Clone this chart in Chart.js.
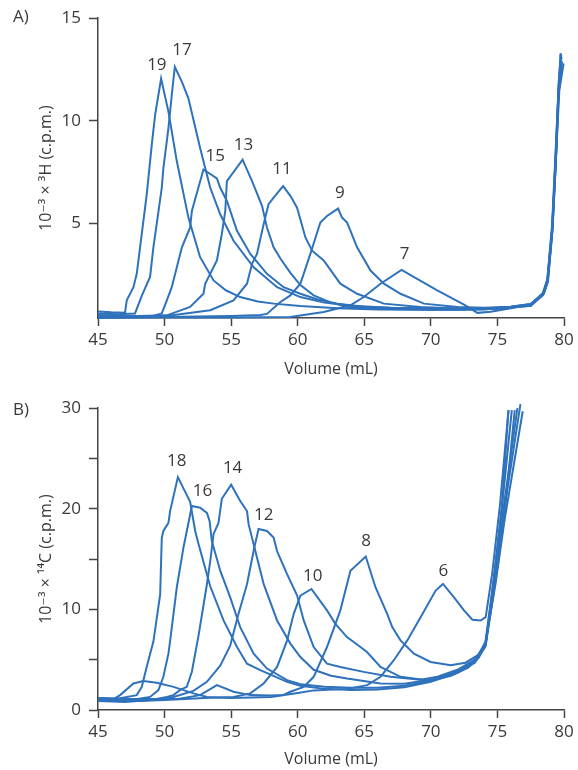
<!DOCTYPE html>
<html><head><meta charset="utf-8">
<script src="https://cdn.jsdelivr.net/npm/chart.js@4.4.1/dist/chart.umd.min.js"></script>
<style>
html,body{margin:0;padding:0;background:#fff;}
#wrap{position:relative;width:578px;height:770px;overflow:hidden;}
canvas{position:absolute;left:0;}
#cA{top:0;}
#cB{top:390px;}
</style></head><body>
<div id="wrap"><canvas id="cA" width="578" height="380"></canvas><canvas id="cB" width="578" height="380"></canvas></div>
<script>
// ---------- data ----------
const xTicks = [45,50,55,60,65,70,75,80];
const yTicksA = [5,10,15];
const yTicksB = [0,5,10,15,20,25,30];
const yLabelsB = [0,10,20,30];

// Panel A (3H) fractions
const a19 = [[45,0.72],[46,0.68],[47.03,0.66],[47.16,1.26],[47.66,1.9],[47.91,2.55],[48.16,3.84],[48.66,6.42],[49.04,8.84],[49.29,10.29],[49.74,12.06],[50.29,10.45],[50.92,8.03],[51.79,5.29],[52.67,3.36],[53.68,2.23],[54.6,1.75],[55.68,1.42],[57,1.2],[58.2,1.1],[60.2,0.98],[63,0.88],[66,0.82],[70,0.8],[74,0.84],[76,0.95],[77.5,1.08],[78.45,1.58],[78.75,2.1],[79.1,4.5],[79.36,7.7],[79.56,10.9],[79.74,13.25]];
const a17 = [[45,0.62],[46.5,0.58],[47.78,0.62],[48.3,1.5],[48.91,2.4],[49.16,3.84],[49.79,6.74],[49.91,7.7],[50.29,9.65],[50.54,11.26],[50.77,12.63],[51.3,11.9],[51.79,11.1],[52.67,8.68],[53.43,6.74],[54.18,5.45],[55.18,4.16],[56.69,2.87],[58.45,1.9],[60.2,1.42],[62,1.15],[64,1.0],[67,0.9],[71,0.86],[74,0.86],[76,0.93],[77.5,1.05],[78.5,1.6],[78.8,2.2],[79.15,4.8],[79.42,8.5],[79.65,11.5],[79.97,12.8]];
const a15 = [[45,0.55],[47,0.5],[49,0.48],[49.79,0.62],[50.17,1.26],[50.54,1.9],[51.3,3.84],[51.92,4.81],[52.05,5.61],[52.92,7.63],[53.93,7.2],[54.18,6.74],[54.68,6.1],[55.44,4.65],[56.44,3.52],[57.69,2.55],[58.94,1.9],[60.2,1.58],[61.5,1.3],[63,1.1],[65,0.95],[68,0.86],[72,0.8],[75,0.85],[77.5,1.0],[78.4,1.5],[78.75,2.1],[79.12,4.6],[79.4,8.2],[79.6,11.4],[79.8,13.1]];
const a13 = [[45,0.5],[48,0.5],[50.17,0.53],[51.92,0.94],[52.92,1.58],[53.05,2.07],[53.93,3.2],[54.3,4.49],[54.56,5.61],[54.68,7.07],[55.86,8.11],[56.57,7.07],[57.32,5.86],[57.69,4.81],[58.19,3.84],[58.7,3.3],[59.45,2.6],[60.2,2.0],[61.2,1.5],[62.5,1.15],[63.7,0.95],[66,0.85],[70,0.8],[74,0.82],[77.5,1.02],[78.45,1.55],[78.75,2.2],[79.1,4.7],[79.38,8.0],[79.58,11.2],[79.85,12.9]];
const a11 = [[45,0.45],[50,0.48],[53.43,0.78],[55.18,1.26],[56.19,2.07],[56.57,3.04],[56.94,3.52],[57.44,4.97],[57.81,5.94],[58.19,6.26],[58.9,6.82],[59.45,6.35],[59.95,5.77],[60.58,4.32],[61.08,3.68],[61.95,3.2],[63.2,2.07],[64.46,1.58],[66.47,1.1],[69.2,0.94],[72,0.86],[75,0.86],[77.5,1.0],[78.45,1.6],[78.75,2.25],[79.12,4.8],[79.4,8.6],[79.6,11.6],[79.78,13.0]];
const a9 = [[45,0.45],[50,0.45],[55,0.5],[57.2,0.55],[57.69,0.6],[58.7,1.18],[59.45,1.5],[60.2,2.07],[60.95,3.52],[61.7,5.05],[62.2,5.37],[63.03,5.73],[63.33,5.29],[63.71,5.05],[64.46,3.84],[65.47,2.71],[66.47,2.07],[67.72,1.58],[69.48,1.1],[72,0.94],[74,0.9],[76,0.95],[77.5,1.08],[78.4,1.6],[78.75,2.3],[79.1,4.9],[79.4,8.9],[79.6,11.8],[79.76,13.3]];
const a7 = [[45,0.4],[50,0.42],[55,0.42],[59.45,0.45],[61.95,0.69],[63.96,1.02],[64.96,1.42],[66.22,2.07],[67.8,2.74],[68.97,2.31],[70.48,1.74],[72.49,1.05],[73.5,0.65],[74.5,0.7],[76,0.88],[77.5,1.05],[78.45,1.6],[78.8,2.3],[79.15,5.0],[79.42,9.0],[79.62,12.0],[79.8,13.2]];

// Panel B (14C) fractions
const b18 = [[45,1.1],[46,1.05],[46.66,1.16],[47.91,1.48],[48.29,2.3],[48.66,4.3],[49.16,6.8],[49.67,11.5],[49.79,17.1],[49.91,17.8],[50.29,18.6],[50.42,19.8],[51.0,23.15],[51.92,20.7],[52.3,17.8],[52.55,16.5],[53.43,12.3],[54.43,8.9],[55.44,6.26],[56.19,4.6],[57.19,3.96],[59.2,2.8],[60.2,2.4],[62,2.1],[64,2.0],[66,2.05],[68,2.25],[70,2.8],[72,3.7],[73.3,4.7],[74.1,6.3],[74.7,12.8],[75.3,19.6],[76.08,29.8]];
const b16 = [[45,1.0],[47,0.9],[48.91,1.3],[49.54,1.98],[49.91,3.3],[50.29,5.6],[50.42,6.9],[50.92,12.2],[51.42,16.16],[52.05,20.28],[52.67,20.1],[53.18,19.6],[53.38,18.8],[53.55,16.8],[54.18,13.85],[54.93,11.2],[55.68,8.24],[56.69,5.6],[57.69,4.12],[59.2,2.97],[60.2,2.57],[62,2.3],[64,2.2],[66,2.2],[68,2.4],[70,2.9],[72,3.8],[73.3,4.8],[74.1,6.4],[74.75,12.6],[75.4,19.5],[76.5,30.0]];
const b14 = [[45,1.2],[47,1.1],[49,1.0],[50.17,1.3],[50.67,1.48],[51.17,2.0],[51.67,2.3],[52.05,3.8],[52.55,7.4],[53.18,12.5],[53.43,14.8],[53.68,17.5],[54.05,18.6],[54.3,21.0],[55.0,22.4],[55.68,20.77],[56.19,19.78],[56.31,18.47],[56.94,15.16],[57.44,12.53],[58.45,8.9],[59.45,6.6],[60.2,5.27],[61.2,4.0],[62.5,3.4],[63.7,3.13],[66.22,2.64],[68,2.6],[70,3.0],[72,3.9],[73.3,4.9],[74.1,6.5],[74.8,12.8],[75.5,19.8],[76.73,30.4]];
const b12 = [[45,0.9],[47,0.8],[49,1.0],[50.67,1.3],[52.17,1.9],[53.18,2.8],[54.18,4.4],[54.93,6.4],[55.56,9.6],[56.19,12.5],[56.74,16.15],[57.06,18.0],[57.69,17.8],[58.19,17.14],[58.45,15.8],[59.2,13.5],[59.95,11.4],[60.45,8.9],[61.2,6.26],[62.2,4.6],[63.2,4.28],[64.96,3.79],[66.97,3.3],[69.23,3.0],[70.5,3.3],[72,4.0],[73.3,5.0],[74.1,6.6],[74.85,12.5],[75.55,19.0],[76.9,29.7]];
const b10 = [[45,1.0],[48,0.9],[50,1.0],[53,1.2],[55.18,1.3],[56.44,1.65],[57.44,2.64],[58.45,4.28],[59.2,6.9],[59.7,9.56],[60.2,11.37],[61.03,12.03],[62.2,9.9],[62.83,8.57],[63.7,7.25],[64.71,6.26],[65.2,5.77],[66.22,4.28],[67.72,3.3],[69.98,2.9],[71.5,3.4],[72.8,4.2],[73.6,5.2],[74.15,6.7],[74.8,12.4],[75.5,19.0],[76.3,29.8]];
const b8 = [[45,1.2],[47,1.1],[49,1.1],[51,1.1],[52.67,1.48],[53.93,2.47],[55.18,1.81],[56.44,1.48],[58.0,1.45],[58.94,1.5],[59.45,1.81],[60.45,2.3],[61.2,3.3],[62.2,6.26],[63.2,9.9],[63.96,13.85],[65.11,15.26],[65.84,12.2],[66.72,9.56],[67.1,8.24],[67.72,6.92],[68.73,5.6],[69.98,4.78],[71.49,4.45],[72.6,4.7],[73.6,5.5],[74.1,6.8],[74.75,13.2],[75.35,20.5],[75.83,29.8]];
const b6 = [[45,1.0],[46.2,1.1],[46.66,1.48],[47.66,2.64],[48.4,2.87],[49.41,2.7],[50.67,2.3],[52.17,1.65],[53.18,1.3],[55,1.2],[58,1.3],[60,1.7],[61.2,1.95],[63.71,2.1],[65.22,2.47],[66.22,3.3],[67.22,4.95],[68.23,6.92],[69.23,9.23],[70.36,11.87],[70.91,12.53],[71.74,11.2],[72.49,9.9],[73.12,8.97],[73.74,8.9],[74.12,9.23],[74.6,13.5],[75.2,20.5],[75.83,29.8]];

// Peak labels (text and anchor in data units)
const peakNamesA = ['19','17','15','13','11','9','7'];
const peakXA = [49.42,51.30,53.80,55.93,58.82,63.16,68.02];
const peakYA = [12.71,13.44,8.28,8.84,7.63,6.50,3.49];
const peakNamesB = ['18','16','14','12','10','8','6'];
const peakXB = [50.92,52.85,55.11,57.44,61.13,65.14,70.94];
const peakYB = [24.73,21.76,24.0,19.39,13.35,16.82,13.85];

// ---------- styling ----------
const FONT = '"Open Sans", "DejaVu Sans", sans-serif';
const TXT = '#3a3a3a';
const AXIS = '#444444';
const LINE = '#2f72bc';

const labelPlugin = {
  id: 'peakLabels',
  afterDatasetsDraw(chart, args, opts) {
    const {ctx, scales: {x, y}} = chart;
    ctx.save();
    ctx.fillStyle = TXT;
    ctx.font = '17px ' + FONT;
    ctx.textAlign = 'center';
    ctx.textBaseline = 'middle';
    opts.names.forEach((n, i) => {
      ctx.fillText(n, x.getPixelForValue(opts.xs[i]), y.getPixelForValue(opts.ys[i]));
    });
    ctx.textAlign = 'left';
    ctx.fillText(opts.panel, opts.panelX, opts.panelY);
    ctx.restore();
  }
};

function build(canvasId, series, cfg) {
  const datasets = series.map(s => ({
    data: s, borderColor: LINE, borderWidth: 2, pointRadius: 0, tension: 0, fill: false, clip: false
  }));
  return new Chart(document.getElementById(canvasId), {
    type: 'line',
    data: { datasets },
    plugins: [labelPlugin],
    options: {
      responsive: false, animation: false, parsing: true,
      layout: { padding: { left: 0, right: 14, top: cfg.padTop, bottom: 0 } },
      plugins: {
        legend: { display: false }, tooltip: { enabled: false },
        peakLabels: { names: cfg.names, xs: cfg.xs, ys: cfg.ys, panel: cfg.panel, panelX: 13, panelY: cfg.panelY }
      },
      scales: {
        x: {
          type: 'linear', min: 45, max: 80,
          afterBuildTicks: s => { s.ticks = xTicks.map(v => ({ value: v })); },
          afterFit: s => { s.height = cfg.xHeight; },
          grid: { drawOnChartArea: false, drawTicks: true, tickLength: 8, color: AXIS, tickWidth: 1.5 },
          border: { display: true, color: AXIS, width: 1.5 },
          ticks: { color: TXT, font: { family: FONT, size: 17 }, padding: 4, maxRotation: 0, autoSkip: false },
          title: { display: true, text: 'Volume (mL)', color: TXT, font: { family: FONT, size: 16 }, padding: { top: 0, bottom: 1 } }
        },
        y: {
          type: 'linear', min: cfg.yMin, max: cfg.yMax,
          afterBuildTicks: s => { s.ticks = cfg.yTicks.map(v => ({ value: v })); },
          afterFit: s => { s.width = 98; },
          grid: { drawOnChartArea: false, drawTicks: true, tickLength: 9, color: AXIS, tickWidth: 1.5 },
          border: { display: true, color: AXIS, width: 1.5 },
          ticks: { color: TXT, font: { family: FONT, size: 17 }, padding: 8, autoSkip: false,
                   callback: v => cfg.yLabels.includes(v) ? String(v) : '' },
          title: { display: true, text: cfg.yTitle, color: TXT, font: { family: FONT, size: 16 }, padding: { top: 37, bottom: 0 } }
        }
      }
    }
  });
}

function draw() {
  build('cA', [a19, a17, a15, a13, a11, a9, a7], {
    padTop: 16, xHeight: 62, yMin: 0.4, yMax: 15, yTicks: yTicksA, yLabels: yTicksA,
    yTitle: '10\u207B\u00B3 \u00D7 \u00B3H (c.p.m.)',
    names: peakNamesA, xs: peakXA, ys: peakYA, panel: 'A)', panelY: 17.5
  });
  build('cB', [b18, b16, b14, b12, b10, b8, b6], {
    padTop: 17, xHeight: 60, yMin: 0, yMax: 30, yTicks: yTicksB, yLabels: yLabelsB,
    yTitle: '10\u207B\u00B3 \u00D7 \u00B9\u2074C (c.p.m.)',
    names: peakNamesB, xs: peakXB, ys: peakYB, panel: 'B)', panelY: 20
  });
}
if (document.fonts && document.fonts.load) {
  Promise.all([document.fonts.load('17px "Open Sans"'), document.fonts.load('16px "DejaVu Sans"')]).then(draw, draw);
} else { draw(); }
</script>
</body></html>
